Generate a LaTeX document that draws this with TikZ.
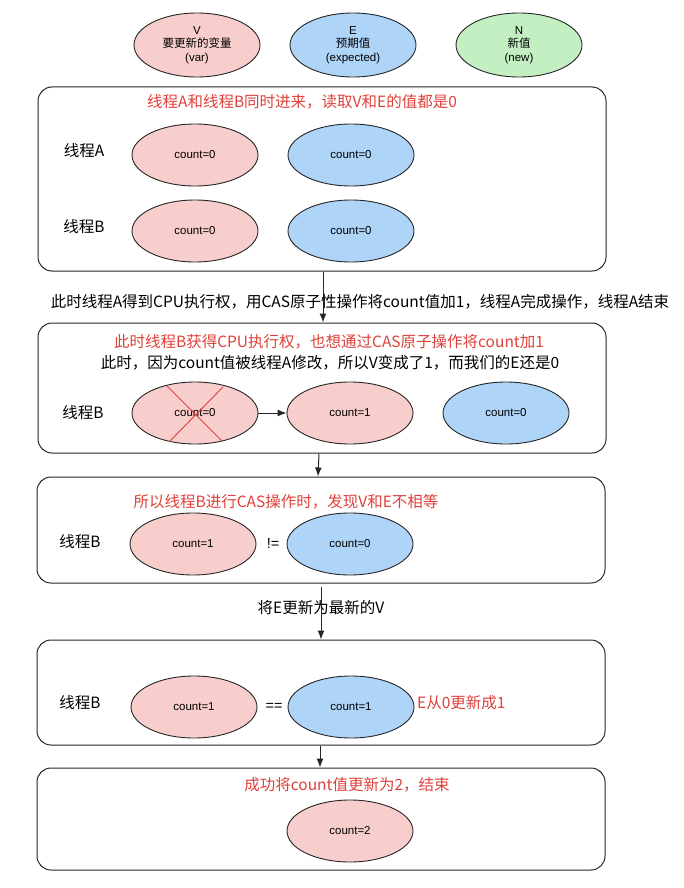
\documentclass[tikz,border=0pt]{standalone}
\usepackage{fontspec}
\setmainfont{Liberation Sans}
\newfontfamily\cjk{Noto Sans CJK SC}
\usepackage{tikz}
\usetikzlibrary{calc}
\usetikzlibrary{positioning}
\usetikzlibrary{shapes,arrows.meta}
\definecolor{pinkV}{HTML}{F8CECC}
\definecolor{blueE}{HTML}{AED4F8}
\definecolor{greenN}{HTML}{C3EFC3}
\definecolor{redT}{HTML}{E0403A}
\definecolor{lineC}{HTML}{262626}
\tikzset{
vpink/.style={
  draw=lineC,line width=0.9pt,ellipse,fill=pinkV,minimum width=126pt,minimum height=62pt,
  inner sep=0pt,font=\fontsize{11.5}{13.5}\selectfont},
eblue/.style={vpink,fill=blueE},
ngreen/.style={vpink,fill=greenN},
stage/.style={draw=lineC,line width=1pt,rounded corners=14pt,minimum width=568pt,inner sep=0pt},
zh/.style={font=\cjk\fontsize{15.5}{18}\selectfont,inner sep=0pt},
zhred/.style={zh,text=redT},
cmp/.style={font=\fontsize{14.5}{16}\selectfont,inner sep=0pt},
flow/.style={draw=lineC,line width=1pt,-{Latex[length=9pt,width=7pt]}}
}

\begin{document}
\begin{tikzpicture}[x=1pt,y=-1pt]
\useasboundingbox (0,0) rectangle (684,888);

% legend
\node[vpink,align=center,minimum height=64pt](Vkey) at (197,45){V\\{\cjk 要更新的变量}\\(var)};
\node[eblue,align=center,minimum height=64pt](Ekey) at (353,45){E\\{\cjk 预期值}\\(expected)};
\node[ngreen,align=center,minimum height=64pt](Nkey) at (519,45){N\\{\cjk 新值}\\(new)};

% stage 1
\node[stage,minimum height=184pt](stageA) at (322,179){};
\node[zhred](titleA) at (302,102){线程A和线程B同时进来，读取V和E的值都是0};
\node[zh](thrA) at (84,151){线程A};
\node[vpink](AV) at (195,155){count=0};
\node[eblue](AE) at (351,155){count=0};
\node[zh](thrB) at (84,227){线程B};
\node[vpink](BV) at (195,231){count=0};
\node[eblue](BE) at (351,231){count=0};

% stage 2
\node[stage,minimum height=130pt](stageB) at (322,388){};
\node[zhred](titleB) at (329,342){此时线程B获得CPU执行权，也想通过CAS原子操作将count加1};
\node[zh](noteB) at (330,363){此时，因为count值被线程A修改，所以V变成了1，而我们的E还是0};
\node[zh](thrB2) at (83,413){线程B};
\node[vpink](oldV) at (195,413){count=0};
\node[vpink](newV) at (350,413){count=1};
\node[eblue](oldE) at (506,413){count=0};
\draw[redT,line width=0.9pt] ([shift={(-28,-27)}]oldV.center) -- ([shift={(27,28)}]oldV.center);
\draw[redT,line width=0.9pt] ([shift={(28,-26)}]oldV.center) -- ([shift={(-26,29)}]oldV.center);
\draw[flow] (oldV) -- (newV);

% stage 3
\node[stage,minimum height=106pt](stageC) at (321,530){};
\node[zhred](titleC) at (286,502){所以线程B进行CAS操作时，发现V和E不相等};
\node[zh](thrB3) at (80,542){线程B};
\node[vpink](cV) at (193,544){count=1};
\node[cmp](neq) at (273,544){!=};
\node[eblue](cE) at (350,544){count=0};

% stage 4
\node[stage,minimum height=105pt](stageD) at (321,692.5){};
\node[zh](thrB4) at (80,703){线程B};
\node[vpink](dV) at (194,707){count=1};
\node[cmp](eq) at (274,707){==};
\node[eblue](dE) at (351,707){count=1};
\node[zhred,anchor=west](upd) at (417,703){E从0更新成1};

% stage 5
\node[stage,minimum height=102pt](stageE) at (321,819){};
\node[zhred](titleE) at (347,785){成功将count值更新为2，结束};
\node[vpink](fV) at (350,831){count=2};

% arrows between stages
\draw[flow] ([xshift=1pt]stageA.south) -- ([xshift=1pt]stageB.north);
\node[zh](msgA) at (360,302){此时线程A得到CPU执行权，用CAS原子性操作将count值加1，线程A完成操作，线程A结束};
\draw[flow] ([xshift=-3pt]stageB.south) -- ([xshift=-3pt]stageC.north);
\draw[flow,shorten <=3pt] (stageC.south) -- (stageD.north);
\node[zh](msgC) at (321,608){将E更新为最新的V};
\draw[flow] ([xshift=-1pt]stageD.south) -- ([xshift=-1pt]stageE.north);
\end{tikzpicture}
\end{document}
